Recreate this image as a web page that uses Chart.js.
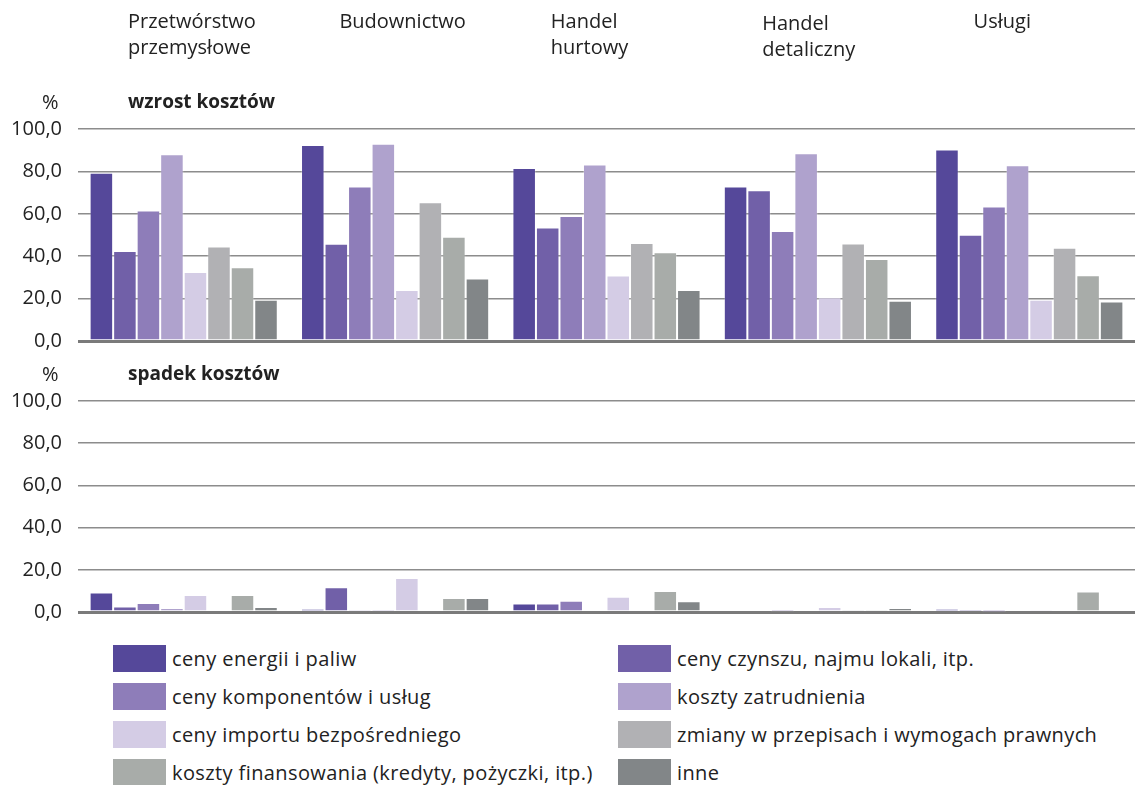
<!DOCTYPE html>
<html>
<head>
<meta charset="utf-8">
<script src="https://cdn.jsdelivr.net/npm/chart.js@4.4.1/dist/chart.umd.min.js"></script>
<style>
  body { margin: 0; background: #fff; font-family: "Open Sans", sans-serif; color: #222; }
  #wrap { position: relative; width: 1135px; height: 785px; overflow: hidden; }
  .box { position: absolute; left: 0; width: 1135px; }
  .lbl { position: absolute; font-size: 20px; line-height: 22px; white-space: nowrap; }
  .lbl.b { font-size: 19px; font-weight: bold; }
  #legenda { position: absolute; left: 113px; top: 645px; display: grid; grid-template-columns: 505px 505px; grid-auto-rows: 38px; }
  #legenda div { display: flex; align-items: center; height: 27px; font-size: 20px; letter-spacing: 0.4px; white-space: nowrap; }
  #legenda span { display: inline-block; width: 53px; height: 27px; margin-right: 6px; }
</style>
</head>
<body>
<div id="wrap">
  <div class="box" style="top:0;height:369px"><canvas id="wykresWzrost"></canvas></div>
  <div class="box" style="top:369px;height:271px"><canvas id="wykresSpadek"></canvas></div>
  <div class="lbl" style="left:42px;top:91px">%</div>
  <div class="lbl b" style="left:128px;top:90px">wzrost kosztów</div>
  <div class="lbl" style="left:42px;top:363px">%</div>
  <div class="lbl b" style="left:128px;top:362px">spadek kosztów</div>
  <div id="legenda"></div>
</div>
<script>
  var kategorie = [['Przetwórstwo', 'przemysłowe'], 'Budownictwo', ['Handel', 'hurtowy'], ['Handel', 'detaliczny'], 'Usługi'];
  var serie = ['ceny energii i paliw', 'ceny czynszu, najmu lokali, itp.', 'ceny komponentów i usług', 'koszty zatrudnienia',
               'ceny importu bezpośredniego', 'zmiany w przepisach i wymogach prawnych', 'koszty finansowania (kredyty, pożyczki, itp.)', 'inne'];
  var kolory = ['#55489a', '#7160a8', '#8e7db9', '#afa2cd', '#d4cce5', '#b1b1b4', '#a8aca9', '#828688'];

  // wzrost kosztów - jedna tablica na serię, kolejno: przemysł, budownictwo, hurt, detal, usługi
  var wzrostEnergia     = [79.4, 92.4, 81.6, 72.9, 90.3];
  var wzrostCzynsz      = [42.5, 45.9, 53.5, 71.1, 50.1];
  var wzrostKomponenty  = [61.6, 72.9, 59.0, 51.9, 63.5];
  var wzrostZatrudnienie = [88.1, 93.0, 83.3, 88.6, 82.9];
  var wzrostImport      = [32.5, 24.0, 30.9, 20.6, 19.5];
  var wzrostPrzepisy    = [44.6, 65.5, 46.2, 46.0, 44.0];
  var wzrostFinanse     = [34.8, 49.2, 41.9, 38.7, 31.0];
  var wzrostInne        = [19.5, 29.5, 24.0, 19.0, 18.6];

  // spadek kosztów
  var spadekEnergia     = [9.2, 1.4, 4.0, 0.6, 1.4];
  var spadekCzynsz      = [2.6, 11.7, 4.0, 0.6, 0.3];
  var spadekKomponenty  = [4.3, 0.4, 5.3, 0.2, 0.1];
  var spadekZatrudnienie = [1.9, 0.3, 0.0, 0.0, 0.0];
  var spadekImport      = [8.0, 16.1, 7.2, 2.4, 1.0];
  var spadekPrzepisy    = [0.0, 0.8, 0.0, 1.0, 0.0];
  var spadekFinanse     = [8.0, 6.6, 10.0, 1.0, 9.7];
  var spadekInne        = [2.4, 6.6, 5.1, 1.9, 0.6];

  var wzrost = [wzrostEnergia, wzrostCzynsz, wzrostKomponenty, wzrostZatrudnienie, wzrostImport, wzrostPrzepisy, wzrostFinanse, wzrostInne];
  var spadek = [spadekEnergia, spadekCzynsz, spadekKomponenty, spadekZatrudnienie, spadekImport, spadekPrzepisy, spadekFinanse, spadekInne];

  Chart.defaults.font.family = '"Open Sans", sans-serif';
  Chart.defaults.font.size = 20;
  Chart.defaults.color = '#222';
  Chart.defaults.animation = false;

  // nazwy sekcji nad wykresem, wyrównane do lewej krawędzi każdej kategorii
  var etykietyKategorii = {
    id: 'etykietyKategorii',
    afterDraw: function (chart) {
      var x = chart.scales.x, ctx = chart.ctx;
      var szer = x.width / kategorie.length;
      ctx.save();
      ctx.font = '20px "Open Sans"';
      ctx.fillStyle = '#222';
      ctx.textBaseline = 'middle';
      kategorie.forEach(function (k, i) {
        var lewa = x.getPixelForValue(i) - szer / 2 + 50;
        var dol = i === 3 ? 2 : 0;
        [].concat(k).forEach(function (t, j) { ctx.fillText(t, lewa, 22 + dol + j * 26); });
      });
      ctx.restore();
    }
  };

  function zbiory(wartosci) {
    return serie.map(function (nazwa, i) {
      return {
        label: nazwa,
        data: wartosci[i],
        backgroundColor: kolory[i],
        borderColor: 'rgba(255,255,255,0.25)',
        borderWidth: 1,
        categoryPercentage: 0.89,
        barPercentage: 1
      };
    });
  }

  function osY() {
    return {
      min: 0,
      max: 100,
      ticks: {
        stepSize: 20,
        padding: 16,
        callback: function (v) { return v.toFixed(1).replace('.', ','); }
      },
      grid: {
        drawTicks: false,
        color: function (c) { return c.tick && c.tick.value === 0 ? '#7a7a7a' : '#8c8c8c'; },
        lineWidth: function (c) { return c.tick && c.tick.value === 0 ? 3 : 1.5; }
      },
      border: { display: false },
      afterFit: function (s) { s.width = 78; }
    };
  }

  new Chart(document.getElementById('wykresWzrost'), {
    type: 'bar',
    data: { labels: kategorie, datasets: zbiory(wzrost) },
    options: {
      responsive: true,
      maintainAspectRatio: false,
      layout: { padding: { top: 129, bottom: 2, left: 0, right: 0 } },
      plugins: { legend: { display: false }, tooltip: { enabled: false } },
      scales: {
        x: { display: false },
        y: osY()
      }
    },
    plugins: [etykietyKategorii]
  });

  new Chart(document.getElementById('wykresSpadek'), {
    type: 'bar',
    data: { labels: kategorie, datasets: zbiory(spadek) },
    options: {
      responsive: true,
      maintainAspectRatio: false,
      layout: { padding: { top: 32, bottom: 0, left: 0, right: 0 } },
      plugins: { legend: { display: false }, tooltip: { enabled: false } },
      scales: {
        x: { display: false },
        y: osY()
      }
    }
  });

  var legenda = document.getElementById('legenda');
  serie.forEach(function (nazwa, i) {
    var d = document.createElement('div');
    var s = document.createElement('span');
    s.style.background = kolory[i];
    d.appendChild(s);
    d.appendChild(document.createTextNode(nazwa));
    legenda.appendChild(d);
  });
</script>
</body>
</html>
